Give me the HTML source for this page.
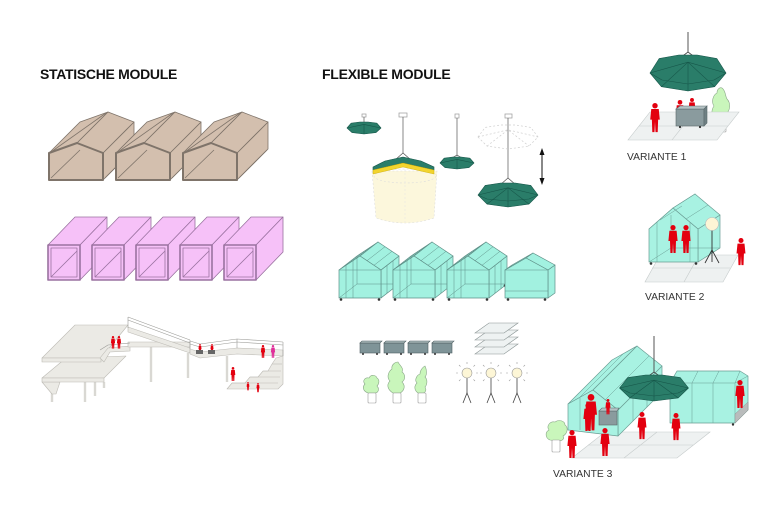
<!DOCTYPE html>
<html><head><meta charset="utf-8"><style>
html,body{margin:0;padding:0;background:#fff;}
svg{display:block;}
.t{font-family:"Liberation Sans",Arial,sans-serif;}
</style></head><body>
<svg width="780" height="520" viewBox="0 0 780 520" xmlns="http://www.w3.org/2000/svg">
<defs>
<g id="pp"><circle cx="0" cy="2.6" r="2.6"/><path d="M-3.6,5.8 L3.6,5.8 L4.6,16 L3,16 L2.6,28 L0.5,28 L0,18 L-0.5,28 L-2.6,28 L-3,16 L-4.6,16 Z"/></g>
<g id="house" stroke="#7f746a" stroke-width="0.8" fill="#d3bfae" stroke-linejoin="round">
<polygon points="103,153 134,122 134,149 103,180"/>
<polygon points="49,153 80,122 108,112 77,143"/>
<polygon points="77,143 108,112 134,122 103,153"/>
<line x1="51" y1="152" x2="106" y2="113"/>
<polygon points="49,180 49,153 77,143 103,153 103,180" stroke-width="2"/>
<line x1="51" y1="178" x2="80" y2="150"/>
<line x1="105" y1="178" x2="133" y2="150"/>
</g>
<g id="pbox" stroke="#9a72a0" stroke-width="0.8" fill="#f6c1f8" stroke-linejoin="round">
<polygon points="48,245 75,217 107,217 80,245"/>
<polygon points="80,245 107,217 107,252 80,280"/>
<rect x="48" y="245" width="32" height="35" stroke-width="1.6"/>
<rect x="51" y="248" width="26" height="29"/>
<line x1="51" y1="277" x2="77" y2="251"/>
</g>
<g id="gh" stroke="#5f9088" stroke-width="0.7" fill="#a2f1e0" stroke-linejoin="round">
<polygon points="381,270 399,256 399,284 381,298"/>
<polygon points="339,270 357,256 378,242 360,256"/>
<polygon points="360,256 378,242 399,256 381,270"/>
<polygon points="339,298 339,270 360,256 381,270 381,298"/>
<g fill="none" stroke-width="0.5">
<polyline points="357,256 357,284 399,284"/><line x1="339" y1="298" x2="357" y2="284"/>
<line x1="346" y1="298" x2="346" y2="265.3"/><line x1="353" y1="298" x2="353" y2="260.7"/>
<line x1="346" y1="265.3" x2="364" y2="251.3"/><line x1="353" y1="260.7" x2="371" y2="246.7"/>
<line x1="367" y1="260.7" x2="385" y2="246.7"/><line x1="374" y1="265.3" x2="392" y2="251.3"/>
<line x1="387" y1="265.3" x2="387" y2="293.3"/><line x1="393" y1="260.7" x2="393" y2="288.7"/>
<line x1="339" y1="270" x2="381" y2="270"/>
</g>
<g fill="#333" stroke="none"><circle cx="341" cy="299.5" r="1.3"/><circle cx="379" cy="299.5" r="1.3"/><circle cx="397" cy="285.5" r="1.3"/></g>
</g>
</defs>

<!-- titles -->
<text class="t" x="40" y="79" font-size="14" font-weight="bold" letter-spacing="-0.3" fill="#111">STATISCHE MODULE</text>
<text class="t" x="322" y="79" font-size="14" font-weight="bold" letter-spacing="-0.25" fill="#111">FLEXIBLE MODULE</text>

<!-- houses -->
<use href="#house"/>
<use href="#house" x="67"/>
<use href="#house" x="134"/>

<!-- pink boxes -->
<use href="#pbox"/>
<use href="#pbox" x="44"/>
<use href="#pbox" x="88"/>
<use href="#pbox" x="132"/>
<use href="#pbox" x="176"/>

<!-- bridge structure -->
<g stroke="#bdbbb5" stroke-width="0.6" fill="#ebeae5" stroke-linejoin="round">
<g stroke="#d9d8d3" stroke-width="2.4">
<line x1="52" y1="382" x2="52" y2="402"/><line x1="85" y1="382" x2="85" y2="402"/>
<line x1="95" y1="382" x2="95" y2="396"/><line x1="104" y1="382" x2="104" y2="388"/>
<line x1="151" y1="347" x2="151" y2="382"/><line x1="188" y1="353" x2="188" y2="378"/>
<line x1="227" y1="356" x2="227" y2="382"/>
</g>
<polygon points="42,382 60,382 56,394 52,394"/>
<polygon points="42,378 66,358 126,356 104,378"/>
<polygon points="42,378 104,378 104,382 42,382"/>
<polygon points="42,358 75,325 128,325 101,358"/>
<polygon points="42,358 101,358 101,362 42,362"/>
<polygon points="100,358 108,348 130,346 130,351 110,352 104,362"/>
<polygon points="128,342 190,342 190,347 128,347"/>
<polygon points="128,327 190,348 190,353 128,332"/>
<polygon points="190,349 200,352 237,348 283,350 283,356 237,354 200,358 190,354"/>
<polygon points="227,389 232,383 245,383 250,377 258,377 263,371 268,371 272,364 276,358 283,356 283,384 278,389"/>
<g fill="none" stroke="#9a9a96">
<line x1="128" y1="317" x2="190" y2="340"/><line x1="128" y1="320" x2="190" y2="343"/>
<line x1="128" y1="317" x2="128" y2="328"/><line x1="190" y1="340" x2="190" y2="349"/>
<polyline points="190,341 200,344 237,339 283,342"/><polyline points="190,344 200,347 237,342 283,345"/>
<line x1="283" y1="342" x2="283" y2="356"/><line x1="237" y1="339" x2="237" y2="348"/>
<polyline points="100,350 108,345 130,343"/>
</g>
<g fill="none"><line x1="232" y1="383" x2="278" y2="383"/><line x1="250" y1="377" x2="280" y2="377"/><line x1="263" y1="371" x2="281" y2="371"/><line x1="272" y1="364" x2="282" y2="364"/></g>
</g>
<g fill="#e3000f">
<use href="#pp" transform="translate(113,336) scale(0.45)"/>
<use href="#pp" transform="translate(119,336) scale(0.45)"/>
<use href="#pp" transform="translate(200,344) scale(0.33)"/>
<use href="#pp" transform="translate(212,344) scale(0.33)"/>
<use href="#pp" transform="translate(263,345) scale(0.46)"/>
<use href="#pp" transform="translate(273,345) scale(0.46)" fill="#e0309a"/>
<use href="#pp" transform="translate(233,367) scale(0.5)"/>
<use href="#pp" transform="translate(248,382) scale(0.3)"/>
<use href="#pp" transform="translate(258,383) scale(0.33)"/>
</g>
<g fill="#666"><rect x="196" y="350" width="7" height="4"/><rect x="208" y="350" width="7" height="4"/></g>

<!-- umbrellas -->
<g stroke="#555" stroke-width="0.7" fill="none">
<rect x="362" y="114" width="4" height="3" fill="#fff" stroke="#999"/>
<line x1="364" y1="117" x2="364" y2="122"/>
<rect x="399" y="113" width="8" height="4" fill="#fff" stroke="#999"/>
<line x1="403" y1="117" x2="403" y2="153"/><polyline points="395,160 403,153 411,160"/>
<rect x="455" y="114" width="4" height="4" fill="#fff" stroke="#999"/>
<line x1="457" y1="118" x2="457" y2="156"/><polyline points="452,158 457,155 462,158"/>
<rect x="505" y="114" width="7" height="4" fill="#fff" stroke="#999"/>
<line x1="508" y1="118" x2="508" y2="178"/><polyline points="500,185 508,178 516,185"/>
</g>
<!-- cream skirt -->
<path d="M372,171 L376,218 Q405,228 434,218 L437,171 Z" fill="#fcf7dc" stroke="#ddd" stroke-width="0.6" stroke-dasharray="2,2"/>
<ellipse cx="405" cy="176" rx="31" ry="7" fill="none" stroke="#ddd" stroke-width="0.6" stroke-dasharray="2,2"/>
<line x1="405" y1="169" x2="405" y2="222" stroke="#e2e2e2" stroke-width="0.5" stroke-dasharray="2,2"/>
<!-- U2 cap -->
<polygon points="373,167 385,161 403,157 421,161 434,167 434,170 403,163 373,170" fill="#2a7d69" stroke="#17574a" stroke-width="0.6"/>
<polygon points="373,170 403,163 434,170 434,174 403,167 373,174" fill="#f2d42e" stroke="#c9a800" stroke-width="0.4"/>
<g fill="#2a7d69" stroke="#17574a" stroke-width="0.6" stroke-linejoin="round">
<polygon points="347,128 351.1,123.2 359.9,122 368.1,122 376.9,123.2 381,128 375.9,132.6 364,134 352.1,132.6"/>
<polyline fill="none" points="347,128 364,124.4 381,128"/><line x1="364" y1="124.4" x2="364" y2="134"/>
<polygon points="440,163 444.1,158.2 452.9,157 461.1,157 469.9,158.2 474,163 468.9,167.6 457,169 445.1,167.6"/>
<polyline fill="none" points="440,163 457,159.4 474,163"/><line x1="457" y1="159.4" x2="457" y2="169"/>
<polygon points="478,195 485.2,185.4 500.8,183 515.2,183 530.8,185.4 538,195 529,204.1 508,207 487,204.1"/>
<polyline fill="none" points="487,204.1 508,187.8 529,204.1"/><polyline fill="none" points="478,195 508,187.8 538,195"/><line x1="508" y1="187.8" x2="508" y2="207"/>
<polyline fill="none" points="478,195 487,199 508,201 529,199 538,195"/>
</g>
<g fill="none" stroke="#cfcfcf" stroke-width="0.7" stroke-dasharray="2,2">
<polygon points="478,137 485.2,127.4 500.8,125 515.2,125 530.8,127.4 538,137 529,146.1 508,149 487,146.1"/>
<polyline points="478,137 508,129.8 538,137"/><polyline points="487,146.1 508,129.8 529,146.1"/>
</g>
<g fill="#111" stroke="#111" stroke-width="1">
<line x1="542" y1="153" x2="542" y2="180"/>
<polygon points="542,148 539.5,155 544.5,155" stroke="none"/>
<polygon points="542,185 539.5,178 544.5,178" stroke="none"/>
</g>

<!-- greenhouses -->
<use href="#gh"/>
<use href="#gh" x="54"/>
<use href="#gh" x="108"/>
<g stroke="#5f9088" stroke-width="0.7" fill="#a2f1e0" stroke-linejoin="round">
<polygon points="548,270 555,265 555,293 548,298"/>
<polygon points="505,270 512,265 533,253 526,258"/>
<polygon points="526,258 533,253 555,265 548,270"/>
<polygon points="505,298 505,270 526,258 548,270 548,298"/>
<g fill="none" stroke-width="0.5"><line x1="505" y1="291" x2="548" y2="291"/><line x1="505" y1="270" x2="548" y2="270"/></g>
<g fill="#333" stroke="none"><circle cx="508" cy="299.5" r="1.3"/><circle cx="545" cy="299.5" r="1.3"/></g>
</g>

<!-- carts -->
<g stroke="#4f5f62" stroke-width="0.6">
<g fill="#7f9498"><rect x="360" y="343" width="20" height="10"/><rect x="384" y="343" width="20" height="10"/><rect x="408" y="343" width="20" height="10"/><rect x="432" y="343" width="20" height="10"/></g>
<g fill="#a9b8bb"><polygon points="360,343 362,341 382,341 380,343"/><polygon points="384,343 386,341 406,341 404,343"/><polygon points="408,343 410,341 430,341 428,343"/><polygon points="432,343 434,341 454,341 452,343"/></g>
<g fill="#333" stroke="none"><circle cx="363" cy="354" r="1"/><circle cx="377" cy="354" r="1"/><circle cx="387" cy="354" r="1"/><circle cx="401" cy="354" r="1"/><circle cx="411" cy="354" r="1"/><circle cx="425" cy="354" r="1"/><circle cx="435" cy="354" r="1"/><circle cx="449" cy="354" r="1"/></g>
</g>
<!-- sheets -->
<g fill="#eef2f2" stroke="#8a9494" stroke-width="0.6">
<polygon points="475,354 489,344 518,344 504,354"/>
<polygon points="475,347 489,337 518,337 504,347"/>
<polygon points="475,340 489,330 518,330 504,340"/>
<polygon points="475,333 489,323 518,323 504,333"/>
</g>
<!-- plants -->
<g fill="#c9f6bb" stroke="#8aa888" stroke-width="0.6">
<path d="M368,393 C363,391 362,387 365,384 C362,381 365,377 369,378 C371,374 376,375 377,378 C380,380 379,384 377,386 C380,389 378,393 375,393 Z"/>
<path d="M393,393 C388,390 386,385 390,381 C386,377 389,371 392,369 C391,365 395,362 398,362 C400,366 404,368 402,372 C406,375 405,380 402,382 C406,386 404,391 400,393 Z"/>
<path d="M418,393 C414,390 414,386 417,383 C414,380 417,375 420,374 C420,370 423,367 425,366 C427,370 427,375 425,377 C428,380 427,385 425,387 C427,390 425,393 423,393 Z"/>
<path d="M716,120 C711,117 711,110 714,106 C711,102 713,95 717,93 C717,89 720,87 722,88 C726,91 725,96 727,99 C731,103 730,110 727,113 C730,117 727,120 724,120 Z"/>
<path d="M550,440 C545,438 545,432 549,430 C546,426 550,421 555,422 C559,419 565,421 565,425 C569,428 567,434 563,436 C565,439 562,441 558,441 Z"/>
</g>
<g fill="#fff" stroke="#999" stroke-width="0.6">
<rect x="368" y="393" width="8" height="10" rx="1"/><rect x="393" y="393" width="8" height="10" rx="1"/><rect x="418" y="393" width="8" height="10" rx="1"/>
<rect x="717" y="120" width="9" height="12" rx="1"/><rect x="552" y="440" width="8" height="12" rx="1"/>
</g>
<!-- lamps -->
<g stroke="#444" stroke-width="0.8" fill="none">
<polyline points="463,403 467,393 471,403"/><line x1="467" y1="378" x2="467" y2="393"/>
<polyline points="487,403 491,393 495,403"/><line x1="491" y1="378" x2="491" y2="393"/>
<polyline points="513,403 517,393 521,403"/><line x1="517" y1="378" x2="517" y2="393"/>
</g>
<g stroke="#999" stroke-width="0.6">
<g fill="#fdf6d6"><circle cx="467" cy="373" r="5"/><circle cx="491" cy="373" r="5"/><circle cx="517" cy="373" r="5"/></g>
<path d="M458,373h-2M476,373h2M467,364v-2M460.5,366.5l-1.5-1.5M473.5,366.5l1.5-1.5M460.5,379.5l-1.5,1.5M473.5,379.5l1.5,1.5"/>
<path d="M482,373h-2M500,373h2M491,364v-2M484.5,366.5l-1.5-1.5M497.5,366.5l1.5-1.5M484.5,379.5l-1.5,1.5M497.5,379.5l1.5,1.5"/>
<path d="M508,373h-2M526,373h2M517,364v-2M510.5,366.5l-1.5-1.5M523.5,366.5l1.5-1.5M510.5,379.5l-1.5,1.5M523.5,379.5l1.5,1.5"/>
</g>

<!-- VARIANTE 1 -->
<g fill="#eef1f1" stroke="#c5cbcb" stroke-width="0.6">
<polygon points="628,140 717,140 739,112 650,112"/>
<line x1="639" y1="126" x2="728" y2="126"/><line x1="672" y1="140" x2="694" y2="112"/>
</g>
<g fill="#e3000f">
<use href="#pp" transform="translate(680,100) scale(0.9)"/>
<use href="#pp" transform="translate(692,98) scale(0.75)"/>
</g>
<g stroke="#5a6a6c" stroke-width="0.6">
<rect x="676" y="109" width="28" height="17" fill="#8a9b9e"/>
<polygon points="676,109 680,106 707,106 704,109" fill="#b5c2c4"/>
<polygon points="704,109 707,106 707,123 704,126" fill="#6f8083"/>
<circle cx="680" cy="127" r="1.1" fill="#333" stroke="none"/><circle cx="700" cy="127" r="1.1" fill="#333" stroke="none"/>
</g>
<use href="#pp" transform="translate(655,103) scale(1.04)" fill="#e3000f"/>
<line x1="688" y1="32" x2="688" y2="52" stroke="#555" stroke-width="1"/>
<polyline points="680,58 688,52 696,58" fill="none" stroke="#444" stroke-width="0.8"/>
<g fill="#2a7d69" stroke="#17574a" stroke-width="0.6" stroke-linejoin="round">
<polygon points="650,73 659.1,58.6 678.9,55 697.1,55 716.9,58.6 726,73 714.6,86.7 688,91 661.4,86.7"/>
<polyline fill="none" points="650,73 688,62.2 726,73"/><polyline fill="none" points="661.4,86.7 688,62.2 714.6,86.7"/><line x1="688" y1="62.2" x2="688" y2="91"/>
<polyline fill="none" points="650,73 662,80 688,84 714,80 726,73"/>
</g>
<text class="t" x="627" y="160" font-size="10.3" fill="#333">VARIANTE 1</text>

<!-- VARIANTE 2 -->
<g fill="#eef1f1" stroke="#c5cbcb" stroke-width="0.6">
<polygon points="645,282 723,282 738,255 660,255"/>
<line x1="652" y1="268" x2="730" y2="268"/><line x1="684" y1="282" x2="699" y2="255"/>
</g>
<g stroke="#6a9d94" stroke-width="0.7" fill="#a8f2e2" stroke-linejoin="round">
<polygon points="698,229 720,215 720,248 698,262"/>
<polygon points="649,229 671,215 695,194 673,208"/>
<polygon points="673,208 695,194 720,215 698,229"/>
<polygon points="649,262 649,229 673,208 698,229 698,262"/>
<g fill="none" stroke-width="0.5">
<polyline points="671,215 671,248 720,248"/><line x1="649" y1="262" x2="671" y2="248"/>
<line x1="660" y1="220" x2="682" y2="206"/><line x1="686" y1="219" x2="708" y2="205"/>
<line x1="657" y1="262" x2="657" y2="222"/><line x1="690" y1="262" x2="690" y2="222"/>
</g>
<g fill="#333" stroke="none"><circle cx="651" cy="263.5" r="1.3"/><circle cx="696" cy="263.5" r="1.3"/></g>
</g>
<g fill="#e3000f">
<use href="#pp" transform="translate(673,225) scale(1)"/>
<use href="#pp" transform="translate(686,225) scale(1)"/>
<use href="#pp" transform="translate(741,238) scale(0.97)"/>
</g>
<g stroke="#333" stroke-width="0.9" fill="none">
<line x1="712" y1="230" x2="712" y2="252"/><polyline points="705,263 712,250 719,263"/><line x1="712" y1="250" x2="712" y2="262"/>
</g>
<circle cx="712" cy="224" r="6.5" fill="#fdf5d5" stroke="#bbb" stroke-width="0.6"/>
<text class="t" x="645" y="300" font-size="10.3" fill="#333">VARIANTE 2</text>

<!-- VARIANTE 3 -->
<g fill="#eef1f1" stroke="#c5cbcb" stroke-width="0.6">
<polygon points="572,458 677,458 710,432 605,432"/>
<line x1="588" y1="445" x2="693" y2="445"/><line x1="624" y1="458" x2="657" y2="432"/>
</g>
<g stroke="#6a9d94" stroke-width="0.7" fill="#a8f2e2" stroke-linejoin="round">
<polygon points="618,410 662,366 662,392 618,436"/>
<polygon points="568,404 612,360 637,346 593,390"/>
<polygon points="593,390 637,346 662,366 618,410"/>
<polygon points="568,430 568,404 593,390 618,410 618,436"/>
<g fill="none" stroke-width="0.5">
<line x1="579" y1="398" x2="623" y2="354"/><line x1="605" y1="400" x2="649" y2="356"/>
<line x1="633" y1="395" x2="633" y2="421"/><line x1="647" y1="381" x2="647" y2="407"/>
<line x1="580" y1="430" x2="580" y2="398"/>
</g>
</g>
<g stroke="#5a6a6c" stroke-width="0.6">
<rect x="599" y="411" width="18" height="14" fill="#8a9b9e"/>
<polygon points="599,411 602,408 619,408 617,411" fill="#b5c2c4"/>
</g>
<g stroke="#6a9d94" stroke-width="0.7" fill="#a8f2e2" stroke-linejoin="round">
<polygon points="670,423 670,383 677,371 740,371 748,376 748,410 735,423"/>
<g fill="none" stroke-width="0.5">
<line x1="670" y1="383" x2="735" y2="383"/><line x1="735" y1="383" x2="735" y2="423"/>
<line x1="735" y1="383" x2="740" y2="371"/><line x1="735" y1="383" x2="748" y2="376"/>
<line x1="692" y1="383" x2="692" y2="423"/><line x1="713" y1="383" x2="713" y2="423"/>
<line x1="692" y1="383" x2="698" y2="371"/><line x1="713" y1="383" x2="719" y2="371"/>
</g>
</g>
<polygon points="735,423 748,410 748,402 735,414" fill="#b9bcbc" stroke="#888" stroke-width="0.4"/>
<circle cx="733" cy="424.5" r="1.2" fill="#333"/>
<g fill="#e3000f">
<use href="#pp" transform="translate(608,399) scale(0.55)"/>
<use href="#pp" transform="translate(588,403) scale(1)"/>
<use href="#pp" transform="translate(591,394) scale(1.3)"/>
<use href="#pp" transform="translate(740,380) scale(1)"/>
<use href="#pp" transform="translate(572,430) scale(1)"/>
<use href="#pp" transform="translate(605,428) scale(1)"/>
<use href="#pp" transform="translate(642,412) scale(0.97)"/>
<use href="#pp" transform="translate(676,413) scale(0.97)"/>
</g>
<line x1="654" y1="336" x2="654" y2="372" stroke="#555" stroke-width="1"/>
<polyline points="646,378 654,372 662,378" fill="none" stroke="#444" stroke-width="0.8"/>
<g fill="#2a7d69" stroke="#17574a" stroke-width="0.6" stroke-linejoin="round">
<polygon points="619.5,388 627.8,377.6 645.7,375 662.3,375 680.2,377.6 688.5,388 678.2,397.9 654,401 629.9,397.9"/>
<polyline fill="none" points="619.5,388 654,380.2 688.5,388"/><polyline fill="none" points="629.9,397.9 654,380.2 678.2,397.9"/><line x1="654" y1="380.2" x2="654" y2="401"/>
<polyline fill="none" points="619.5,388 630,393 654,396 678,393 688.5,388"/>
</g>
<text class="t" x="553" y="477" font-size="10.3" fill="#333">VARIANTE 3</text>
</svg>
</body></html>
